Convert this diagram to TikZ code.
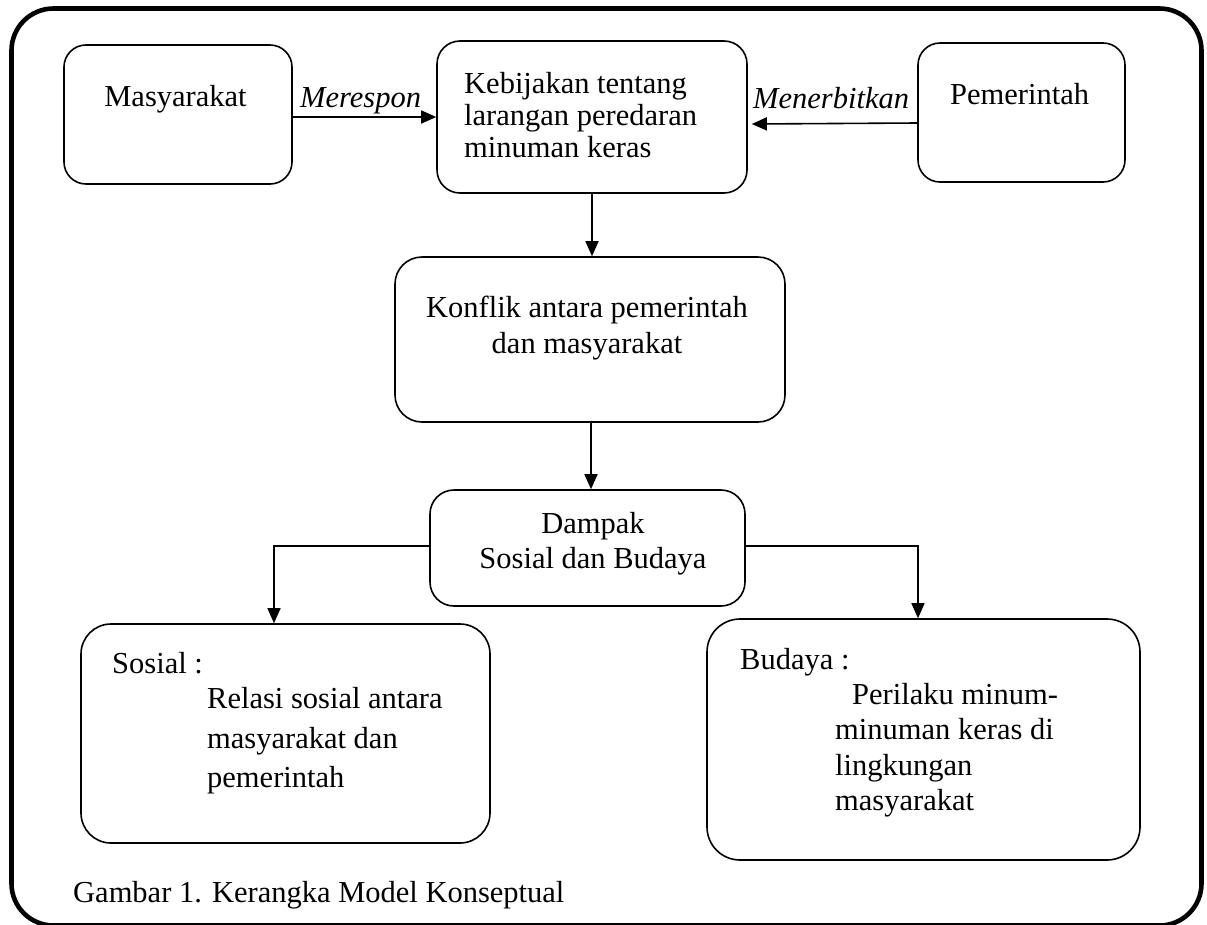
\documentclass[tikz,border=0pt]{standalone}
\usepackage{fontspec}
\setmainfont{Liberation Serif}
\usetikzlibrary{arrows.meta,calc}
\begin{document}
\begin{tikzpicture}[x=1pt,y=-1pt,
  font=\fontsize{30.5}{35.5}\selectfont,
  box/.style={draw,line width=1.6pt,rounded corners=#1,inner sep=0pt},
  lt/.style={inner sep=0pt,anchor=base west},
  ct/.style={inner sep=0pt,anchor=base},
  arr/.style={line width=1.6pt,-{Triangle[length=15pt,width=13pt]}},
  frame/.style={line width=4.6pt,rounded corners=42pt}]
\useasboundingbox (0,0) rectangle (1207,924);
\draw[frame] (11.5,8.5) rectangle (1201.5,925.5);

% boxes
\node[box=22pt,minimum width=228pt,minimum height=139pt] (ms) at (178,114.5) {};
\node[box=23pt,minimum width=310pt,minimum height=152pt] (kb) at (592,117) {};
\node[box=22pt,minimum width=207pt,minimum height=139pt] (pem) at (1021.5,112.5) {};
\node[box=27pt,minimum width=390pt,minimum height=165pt] (kf) at (590,339.5) {};
\node[box=24pt,minimum width=315pt,minimum height=116pt] (dp) at (587.5,548) {};
\node[box=30pt,minimum width=409pt,minimum height=219pt] (so) at (285.5,733.5) {};
\node[box=33pt,minimum width=433pt,minimum height=241pt] (bd) at (923.5,739.5) {};

% texts
\node[ct] (msT) at (175.5,106) {Masyarakat};
\node[lt] (kb1) at (464,93) {Kebijakan tentang};
\node[lt] (kb2) at (464,125) {larangan peredaran};
\node[lt] (kb3) at (464,157) {minuman keras};
\node[lt] (pemT) at (950,104) {Pemerintah};
\node[lt] (resp) at (300,107) {\itshape Merespon};
\node[lt] (terb) at (753,108) {\itshape Menerbitkan};
\node[ct] (kf1) at (587,317) {Konflik antara pemerintah};
\node[ct] (kf2) at (587,353) {dan masyarakat};
\node[ct] (dp1) at (593,533) {Dampak};
\node[ct] (dp2) at (593,568) {Sosial dan Budaya};
\node[lt] (so0) at (112,673) {Sosial :};
\node[lt] (so1) at (207,708) {Relasi sosial antara};
\node[lt] (so2) at (207,748) {masyarakat dan};
\node[lt] (so3) at (207,787) {pemerintah};
\node[lt] (bd0) at (740,669) {Budaya :};
\node[lt] (bd1) at (852,704) {Perilaku minum-};
\node[lt] (bd2) at (835,739) {minuman keras di};
\node[lt] (bd3) at (835,775) {lingkungan};
\node[lt] (bd4) at (835,810) {masyarakat};
\node[lt] (cap) at (73,902) {Gambar 1. Kerangka Model Konseptual};

% connectors
\coordinate (mtip) at ($(kb.east |- 0,124)+(4,0)$);
\draw[arr] (ms.east |- 0,117) -- (kb.west |- 0,117);
\draw[arr] (pem.west |- 0,123) -- (mtip);
\draw[arr] (kb.south) -- (kb.south |- kf.north);
\draw[arr] (kf.south -| 591,0) -- (dp.north -| 591,0);
\draw[arr] (dp.west |- 0,546) -| (so.north -| 274,0);
\draw[arr] (dp.east |- 0,546) -| (bd.north -| 918,0);
\end{tikzpicture}
\end{document}
